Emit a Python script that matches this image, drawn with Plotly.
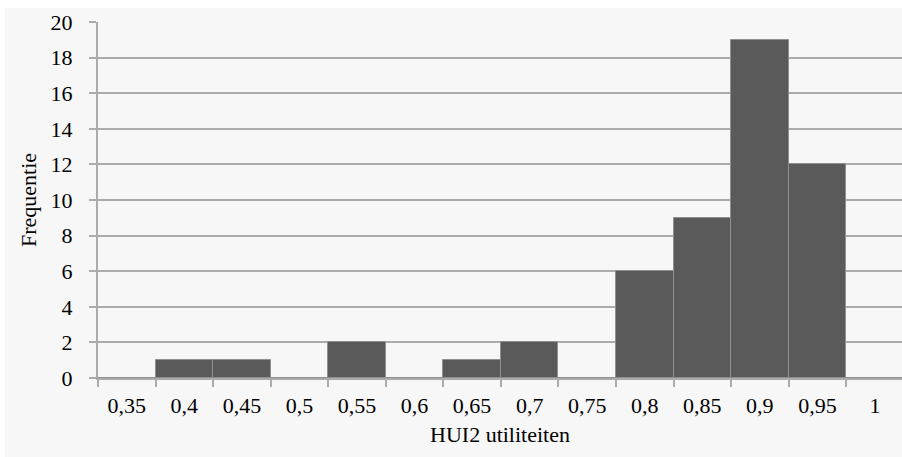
import plotly.graph_objects as go

categories = ["0,35", "0,4", "0,45", "0,5", "0,55", "0,6", "0,65", "0,7",
              "0,75", "0,8", "0,85", "0,9", "0,95", "1"]
frequencies = [0, 1, 1, 0, 2, 0, 1, 2, 0, 6, 9, 19, 12, 0]
y_ticks = list(range(0, 21, 2))

W, H = 902, 457
ML, MR, MT, MB = 98, 0, 22, 79
pw = W - ML - MR
ph = H - MT - MB

fig = go.Figure(go.Bar(
    x=categories, y=frequencies,
    marker=dict(color="#5a5a5a", line=dict(color="#8f8f8f", width=1)),
    width=1.0,
))

font = dict(family="Liberation Serif, Times New Roman, serif", size=22, color="#000000")
grid_c = "#ababab"

fig.update_layout(
    width=W, height=H,
    margin=dict(l=ML, r=MR, t=MT, b=MB, autoexpand=False),
    paper_bgcolor="#f7f7f7", plot_bgcolor="#f7f7f7",
    font=font, showlegend=False, bargap=0,
    xaxis=dict(
        type="category", range=[-0.5, 13.47], automargin=False,
        tickson="boundaries", ticks="outside", ticklen=7, tickwidth=2, tickcolor=grid_c,
        showline=True, linecolor=grid_c, linewidth=2,
        showgrid=False, tickfont=font, ticklabelstandoff=7,
        title=dict(text="HUI2 utiliteiten", font=font, standoff=9),
    ),
    yaxis=dict(
        range=[0, 20], tickvals=y_ticks, ticktext=[str(v) for v in y_ticks],
        automargin=False,
        ticks="outside", ticklen=7, tickwidth=2, tickcolor=grid_c,
        showline=True, linecolor=grid_c, linewidth=2,
        showgrid=True, gridcolor=grid_c, gridwidth=2, zeroline=False,
        tickfont=font, ticklabelstandoff=12,
        title=dict(text="Frequentie", font=font, standoff=8),
    ),
    shapes=[
        dict(type="rect", xref="paper", yref="paper", layer="above",
             x0=-ML / pw, x1=(W - ML) / pw + 0.01, y0=(ph + MT - 8) / ph, y1=(ph + MT + 2) / ph,
             fillcolor="#ffffff", line=dict(width=0)),
        dict(type="rect", xref="paper", yref="paper", layer="above",
             x0=-ML / pw - 0.01, x1=(5 - ML) / pw, y0=-MB / ph - 0.01, y1=(ph + MT + 2) / ph,
             fillcolor="#ffffff", line=dict(width=0)),
    ],
)

fig.write_html("out.html", config={"displayModeBar": False},
               post_script="document.body.style.margin='0';document.body.style.overflow='hidden';")
